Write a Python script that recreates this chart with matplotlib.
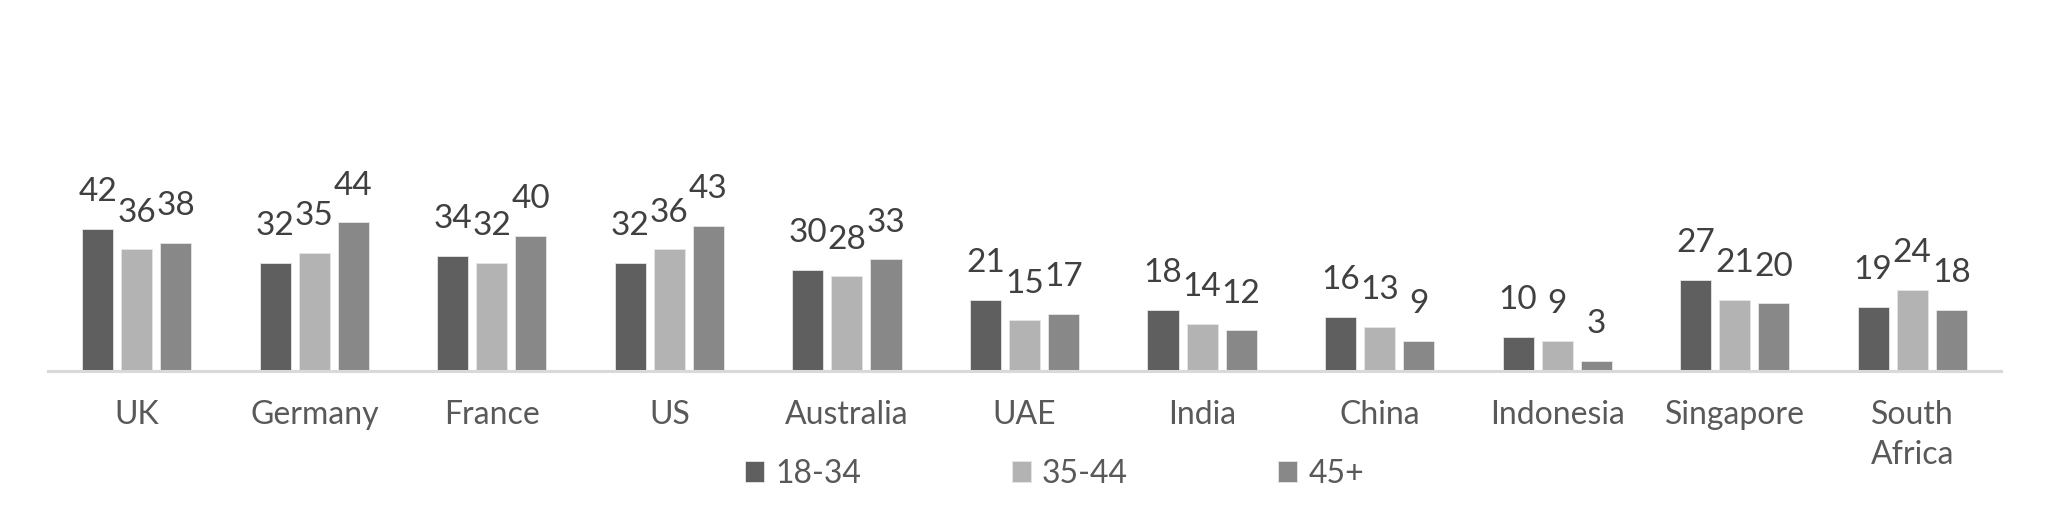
import numpy as np
import matplotlib.pyplot as plt

countries = ['UK', 'Germany', 'France', 'US', 'Australia', 'UAE', 'India',
             'China', 'Indonesia', 'Singapore', 'South\nAfrica']
age_18_34 = [42, 32, 34, 32, 30, 21, 18, 16, 10, 27, 19]
age_35_44 = [36, 35, 32, 36, 28, 15, 14, 13, 9, 21, 24]
age_45_plus = [38, 44, 40, 43, 33, 17, 12, 9, 3, 20, 18]
series_names = ['18-34', '35-44', '45+']

colors = ['#5f5f5f', '#b3b3b3', '#888888']

plt.rcParams['font.family'] = ['Lato', 'DejaVu Sans']

fig = plt.figure(figsize=(20.48, 5.15), dpi=100)
ax = fig.add_axes([48 / 2048, 1 - 371 / 515, 1953 / 2048, 338 / 515])

x = np.arange(len(countries))
width = 0.175
step = 0.22

handles = []
for i, (vals, name) in enumerate(zip([age_18_34, age_35_44, age_45_plus], series_names)):
    bars = ax.bar(x + (i - 1) * step, vals, width, color=colors[i],
                  edgecolor='#e6e6e6', linewidth=0.6, label=name, zorder=2)
    handles.append(bars)
    # value labels above each bar
    for xi, v in zip(x + (i - 1) * step, vals):
        ax.annotate(str(v), (xi, v), xytext=(0, 20), textcoords='offset points',
                    ha='center', va='baseline', fontsize=24, color='#404040')

ax.set_xlim(-0.5, len(countries) - 0.5)
ax.set_ylim(0, 100)
ax.set_yticks([])
ax.set_xticks(x)
ax.set_xticklabels(countries, fontsize=23, color='#595959', linespacing=1.4)
ax.tick_params(axis='x', length=0, pad=21)

for side in ['top', 'right', 'left']:
    ax.spines[side].set_visible(False)
ax.spines['bottom'].set_color('#d9d9d9')
ax.spines['bottom'].set_linewidth(2.2)
ax.spines['bottom'].set_zorder(3)

leg = fig.legend(handles=handles, labels=series_names, loc='center',
                 bbox_to_anchor=(0.515, 0.08), ncol=3, frameon=False,
                 fontsize=23, handlelength=0.6, handleheight=0.6,
                 handletextpad=0.35, columnspacing=4.7)
for t in leg.get_texts():
    t.set_color('#595959')

fig.savefig('out.png', dpi=100, facecolor='white')
